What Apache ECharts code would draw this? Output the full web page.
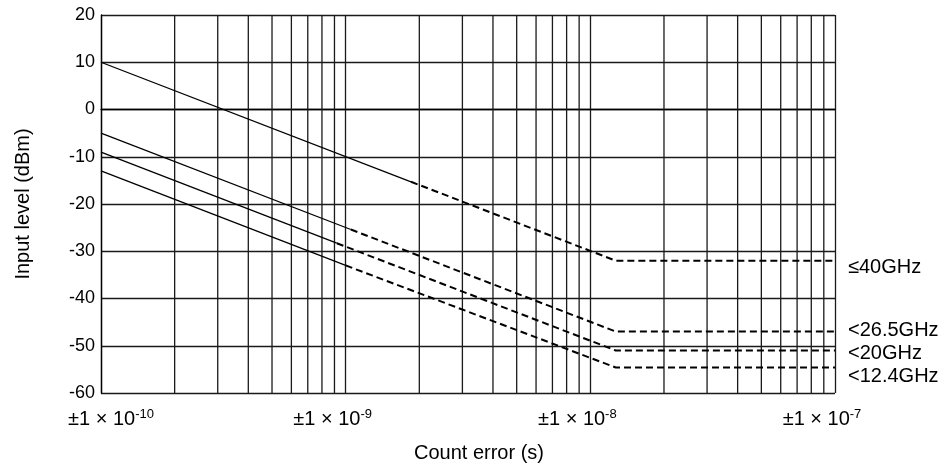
<!DOCTYPE html>
<html>
<head>
<meta charset="utf-8">
<script src="https://cdn.jsdelivr.net/npm/echarts@6/dist/echarts.min.js"></script>
<style>
html,body{margin:0;padding:0;background:#fff;}
#chart{width:952px;height:468px;}
</style>
</head>
<body>
<div id="chart"></div>
<script>
// ---- data ----
const seriesNames = ['≤40GHz', '<26.5GHz', '<20GHz', '<12.4GHz'];
// solid (measured) parts
const solid40 = [[1e-10, 10], [1.85e-9, -15.3]];
const solid265 = [[1e-10, -5], [1.05e-9, -25.4]];
const solid20 = [[1e-10, -9], [0.92e-9, -28.3]];
const solid124 = [[1e-10, -13], [1.0e-9, -33]];
// dashed (extrapolated) parts
const dashed40 = [[1.85e-9, -15.3], [1.27e-8, -32], [1e-7, -32]];
const dashed265 = [[1.05e-9, -25.4], [1.27e-8, -47], [1e-7, -47]];
const dashed20 = [[0.92e-9, -28.3], [1.27e-8, -51], [1e-7, -51]];
const dashed124 = [[1.0e-9, -33], [1.27e-8, -54.6], [1e-7, -54.6]];
// axes
const xMin = 1e-10, xMax = 1e-7;
const yMin = -60, yMax = 20, yStep = 10;
const gridDecades = [1e-10, 1e-9, 1e-8];
const gridMultipliers = [2, 3, 4, 5, 6, 7, 8, 9];
const labelOffsets = [[13, 7], [13, -1], [13, 3], [13, 9]];

const minorX = [];
gridDecades.forEach(d => gridMultipliers.forEach(m => minorX.push(d * m)));

const solids = [solid40, solid265, solid20, solid124];
const dashes = [dashed40, dashed265, dashed20, dashed124];

const series = [];
minorX.forEach(v => series.push({
  type: 'line', name: 'grid', data: [[v, yMin], [v, yMax]], silent: true, z: 1,
  showSymbol: false, animation: false,
  lineStyle: {color: '#1a1a1a', width: 1.3, type: 'solid'},
  emphasis: {disabled: true}
}));
solids.forEach((d, i) => series.push({
  type: 'line', name: seriesNames[i] + ' solid', data: d, showSymbol: false, z: 3,
  lineStyle: {color: '#000', width: 1.3, type: 'solid'}, animation: false, silent: true
}));
dashes.forEach((d, i) => series.push({
  type: 'line', name: seriesNames[i], data: d, showSymbol: false, z: 3,
  lineStyle: {color: '#000', width: 2, type: [7, 4]}, animation: false, silent: true,
  endLabel: {
    show: true, formatter: seriesNames[i], color: '#000', fontSize: 20,
    fontFamily: 'Liberation Sans, Arial, sans-serif', distance: labelOffsets[i][0],
    offset: [0, labelOffsets[i][1]]
  }
}));

const chart = echarts.init(document.getElementById('chart'), null, {renderer: 'canvas'});
chart.setOption({
  animation: false,
  backgroundColor: '#fff',
  textStyle: {fontFamily: 'Liberation Sans, Arial, sans-serif', color: '#000'},
  grid: {left: 101, right: 117, top: 15, bottom: 74, containLabel: false},
  xAxis: {
    type: 'log', logBase: 10, min: xMin, max: xMax,
    name: 'Count error (s)', nameLocation: 'middle', nameGap: 50,
    nameTextStyle: {fontSize: 20, color: '#000', padding: [0, 0, 0, 22]},
    axisLine: {show: true, lineStyle: {color: '#000', width: 1.3}},
    axisTick: {show: false},
    splitLine: {show: true, lineStyle: {color: '#1a1a1a', width: 1.3}},
    axisLabel: {
      show: true, showMinLabel: true, showMaxLabel: true, margin: 15, color: '#000',
      formatter: function (v, idx) {
        const e = Math.round(Math.log10(v));
        const core = '{b|±1 × 10}{s|' + e + '}';
        return idx === 0 ? '{sp| }' + core : core + '{sp2| }';
      },
      rich: {
        b: {fontSize: 20, color: '#000'},
        s: {fontSize: 13, color: '#000', padding: [0, 0, 9, 0]},
        sp: {width: 20},
        sp2: {width: 26}
      }
    }
  },
  yAxis: {
    type: 'value', min: yMin, max: yMax, interval: yStep,
    name: 'Input level (dBm)', nameLocation: 'middle', nameGap: 68,
    nameTextStyle: {fontSize: 20, color: '#000'},
    axisLine: {show: true, lineStyle: {color: '#000', width: 1.3}},
    axisTick: {show: false},
    splitLine: {show: true, lineStyle: {color: '#1a1a1a', width: 1.3}},
    axisLabel: {fontSize: 18, color: '#000', margin: 6}
  },
  series: series
});
</script>
</body>
</html>
